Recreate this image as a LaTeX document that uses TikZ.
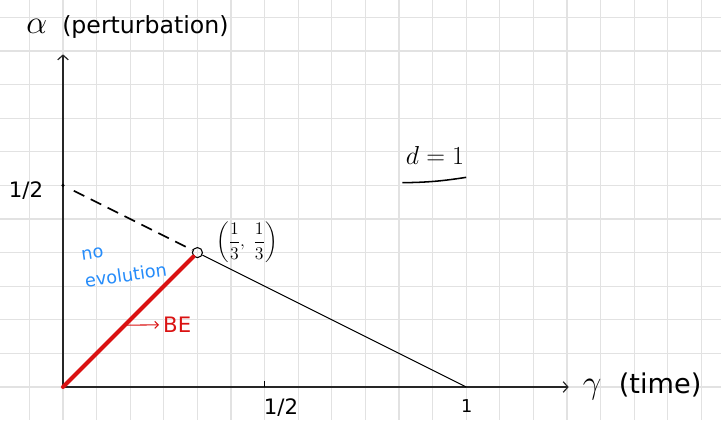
\RequirePackage{fix-cm}
\documentclass[tikz,border=0pt]{standalone}
\usepackage{amsmath}
\usepackage{fontspec}
\setmainfont{DejaVu Sans}
\usetikzlibrary{calc,arrows.meta}
\definecolor{penred}{RGB}{218,18,18}
\definecolor{penblue}{RGB}{38,140,250}
\definecolor{gridgray}{RGB}{226,226,226}
\newcommand{\bigsym}[1]{{\fontsize{28}{30}\selectfont$#1$}}

\begin{document}
\begin{tikzpicture}[font=\fontsize{18}{21}\selectfont,
  axis/.style={line width=1.3pt,black!85,-{Straight Barb[length=4pt,width=9pt,line width=1pt]}},
  pen/.style={line width=0.9pt,black}]
\useasboundingbox (-1.875,-0.982) rectangle (19.583,11.518);
\draw[gridgray,line width=0.9pt] (-1.875,-0.982) grid (19.583,11.518);

% points
\coordinate (O) at (0,0);
\coordinate (ytop) at (0,9.9);
\coordinate (xend) at (15.05,0);
\coordinate (Yhalf) at (0,6);
\coordinate (Xhalf) at (6,0);
\coordinate (Xone) at (12,0);
\coordinate (dashstart) at ($(Yhalf)!0.08!(4,4)$);

% axes
\draw[axis] (O) -- (ytop);
\draw[axis] (O) -- (xend);
\node[font=\fontsize{20}{23}\selectfont] (alabel) at (1.92,10.72) {\bigsym{\alpha}\ \ (perturbation)};
\node[anchor=west,font=\fontsize{23}{26}\selectfont] (glabel) at (15.35,0.02) {\bigsym{\gamma}\ \ (time)};

% ticks
\fill (Yhalf) circle (0.05);
\node (yhalf) at (-1.1,5.86) {1/2};
\draw[pen] (Xhalf) -- ++(0,0.18);
\node (xhalf) at (6.49,-0.6) {1/2};
\node[font=\fontsize{15}{17}\selectfont] (xone) at (12.02,-0.58) {1};

% lines
\node[circle,draw,pen,inner sep=0pt,minimum size=0.3cm] (P) at (4,4) {};
\draw[penred,line width=3.4pt,line cap=round] (O) -- (P);
\draw[pen,line width=1.4pt,dash pattern=on 10pt off 6pt] (dashstart) -- (P);
\draw[pen] (P) -- (Xone);
\node[inner sep=1pt,font=\fontsize{15}{18}\selectfont] (Plabel) at (5.47,4.3) {$\left(\dfrac{1}{3},\ \dfrac{1}{3}\right)$};

% labels
\node[penblue,align=left,rotate=8,inner sep=1pt,font=\fontsize{15}{23}\selectfont] (noevo) at (1.82,3.68) {no\\evolution};
\coordinate (BEfoot) at ($(O)!0.46!(P.center)$);
\node[penred] (BE) at (3.4,1.85) {BE};
\draw[penred,line width=0.9pt,-{Straight Barb[length=3pt,width=6pt]}] (BEfoot) -- (BE.west);

\node[font=\fontsize{22}{25}\selectfont] (dlabel) at (11.07,6.9) {$d=1$};
\coordinate (ul1) at (10.1,6.08);
\coordinate (ul2) at (12.0,6.24);
\draw[pen,line width=1.3pt] (ul1) to[bend right=4] (ul2);
\end{tikzpicture}
\end{document}
